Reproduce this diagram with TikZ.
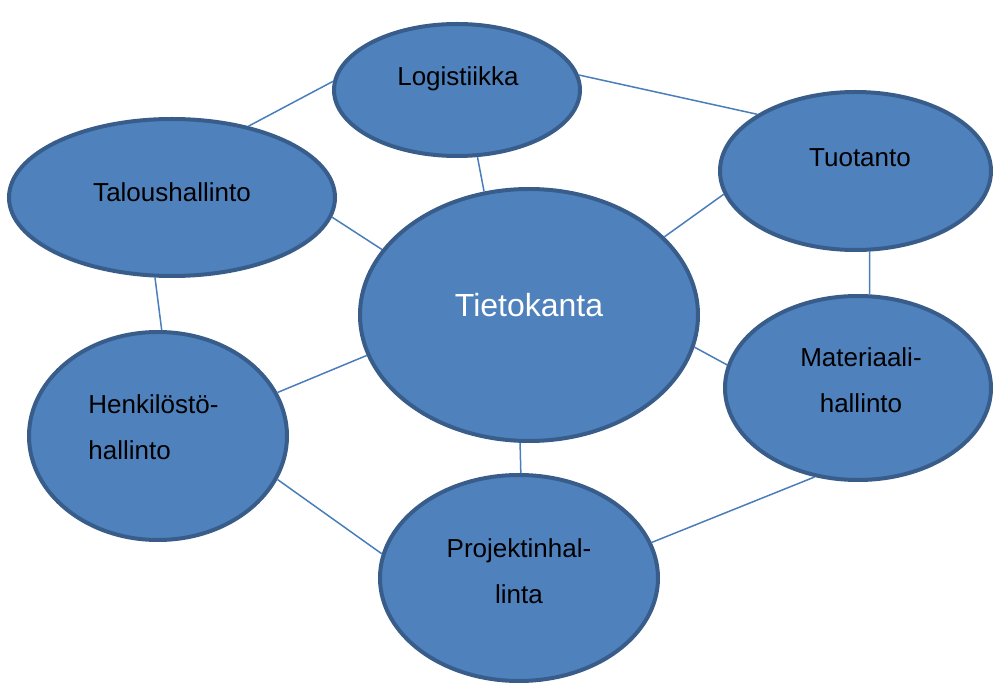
\documentclass[tikz,border=0pt]{standalone}
\usepackage{fontspec}
\setmainfont{Liberation Sans}

\definecolor{pallosin}{HTML}{4F81BD}
\definecolor{reuna}{HTML}{385D8A}
\definecolor{viivasin}{HTML}{4A7EBB}

\tikzset{
  pallo/.style={ellipse,draw=reuna,fill=pallosin,line width=2pt,inner sep=0pt},
  viiva/.style={draw=viivasin,line width=0.75pt},
  teksti/.style={font=\fontsize{13}{23}\selectfont,align=center,inner sep=0pt}
}
\usetikzlibrary{shapes.geometric}

\begin{document}
\begin{tikzpicture}[x=0.5pt,y=-0.5pt]
\useasboundingbox (0,0) rectangle (993,684);

% pallot
\node[pallo,minimum width=123pt,minimum height=66pt] (logi) at (457,90) {};
\node[pallo,minimum width=135.5pt,minimum height=79pt] (tuot) at (855.5,171) {};
\node[pallo,minimum width=163pt,minimum height=78.5pt] (talous) at (172,197.5) {};
\node[pallo,minimum width=169pt,minimum height=126pt] (kanta) at (529,315) {};
\node[pallo,minimum width=133pt,minimum height=92pt] (mater) at (858,388) {};
\node[pallo,minimum width=129pt,minimum height=104pt] (henk) at (158,436) {};
\node[pallo,minimum width=139pt,minimum height=103pt] (proj) at (519,578) {};

% tekstit
\node[teksti,anchor=base] (logiteksti) at (458,85.7) {Logistiikka};
\node[teksti,anchor=base] (tuotteksti) at (860,167) {Tuotanto};
\node[teksti,anchor=base] (talousteksti) at (172,202) {Taloushallinto};
\node[teksti,anchor=base,font=\fontsize{16}{19}\selectfont,text=white] (kantateksti) at (529,317) {Tietokanta};
\node[teksti] (materteksti) at (861,380.5) {Materiaali-\\hallinto};
\node[teksti,align=left,anchor=west] (henkteksti) at (88,427.5) {Henkilöstö-\\hallinto};
\node[teksti] (projteksti) at (519,571.5) {Projektinhal-\\linta};

% viivat
\draw[viiva] (logi.176) -- (talous.43);
\draw[viiva] (logi.7) -- (tuot.150);
\draw[viiva] (logi.-73) -- (kanta.110);
\draw[viiva] (talous.-7) -- (kanta.156);
\draw[viiva] (kanta.30) -- (tuot.190);
\draw[viiva] (tuot.-80) -- (mater.83);
\draw[viiva] (talous.-102) -- (henk.88);
\draw[viiva] (kanta.194) -- (henk.20);
\draw[viiva] (kanta.-11) -- (mater.170);
\draw[viiva] (kanta.266) -- (proj.89);
\draw[viiva] (henk.-20) -- (proj.170);
\draw[viiva] (mater.244) -- (proj.15);
\end{tikzpicture}
\end{document}
